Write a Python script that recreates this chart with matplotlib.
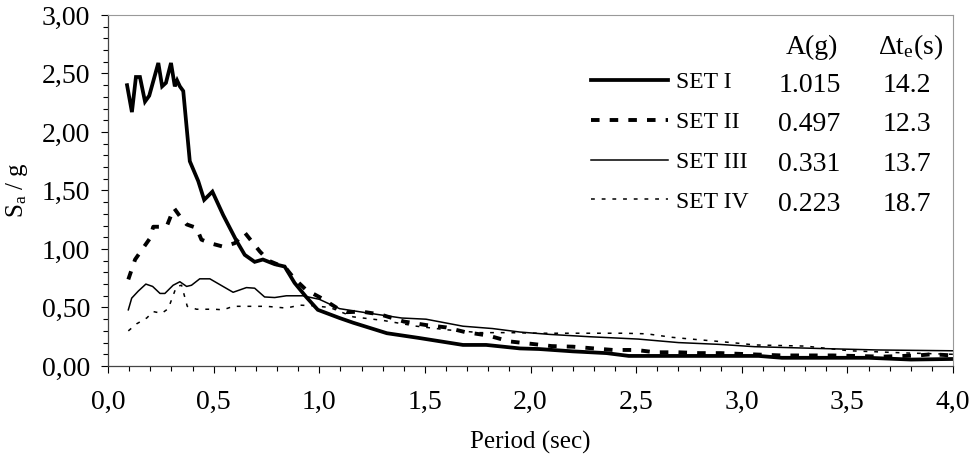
import numpy as np
import matplotlib
matplotlib.use('Agg')
import matplotlib.pyplot as plt
from matplotlib.ticker import MultipleLocator, FuncFormatter

plt.rcParams['font.family'] = ['Liberation Serif', 'DejaVu Serif']
plt.rcParams['mathtext.fontset'] = 'custom'
plt.rcParams['mathtext.rm'] = 'Liberation Serif'
plt.rcParams['mathtext.it'] = 'Liberation Serif:italic'

# values
set1_T = [0.09, 0.113, 0.132, 0.151, 0.175, 0.195, 0.238, 0.256, 0.274, 0.298, 0.316, 0.327,
          0.34, 0.356, 0.387, 0.427, 0.455, 0.494, 0.545, 0.608, 0.647, 0.694, 0.733, 0.789,
          0.836, 0.883, 0.938, 0.993, 1.096, 1.16, 1.32, 1.47, 1.68, 1.79, 1.95, 2.04, 2.20,
          2.36, 2.465, 2.67, 2.89, 3.08, 3.19, 3.6, 3.8, 4.0]
set1_Sa = [2.40, 2.17, 2.47, 2.47, 2.26, 2.31, 2.59, 2.39, 2.42, 2.59, 2.39, 2.44,
           2.39, 2.35, 1.75, 1.58, 1.42, 1.49, 1.29, 1.07, 0.95, 0.89, 0.91, 0.87,
           0.85, 0.71, 0.59, 0.48, 0.41, 0.37, 0.28, 0.24, 0.18, 0.18, 0.15, 0.145, 0.125,
           0.11, 0.086, 0.086, 0.086, 0.086, 0.07, 0.07, 0.055, 0.06]

set2_T = [0.096, 0.128, 0.159, 0.198, 0.214, 0.277, 0.312, 0.34, 0.372, 0.419, 0.442, 0.482,
          0.545, 0.60, 0.647, 0.718, 0.76, 0.80, 0.84, 0.88, 0.938, 1.01, 1.08, 1.13, 1.2,
          1.29, 1.40, 1.505, 1.60, 1.69, 1.80, 1.90, 2.0, 2.10, 2.2, 2.30, 2.39, 2.50, 2.59,
          2.70, 2.80, 2.90, 3.04, 3.19, 3.43, 3.67, 3.83, 3.9, 4.0]
set2_Sa = [0.74, 0.91, 0.99, 1.09, 1.19, 1.19, 1.35, 1.28, 1.21, 1.18, 1.08, 1.05,
           1.02, 1.05, 1.14, 0.98, 0.90, 0.87, 0.84, 0.75, 0.65, 0.58, 0.50, 0.46, 0.465,
           0.44, 0.38, 0.35, 0.33, 0.29, 0.26, 0.21, 0.19, 0.17, 0.165, 0.15, 0.137, 0.137, 0.117,
           0.117, 0.11, 0.11, 0.10, 0.09, 0.09, 0.08, 0.09, 0.10, 0.09]

set3_T = [0.096, 0.112, 0.143, 0.179, 0.211, 0.246, 0.269, 0.308, 0.34, 0.372, 0.395, 0.434,
          0.482, 0.592, 0.655, 0.694, 0.741, 0.789, 0.844, 0.922, 1.0, 1.096, 1.24, 1.39,
          1.505, 1.68, 1.82, 1.95, 2.09, 2.28, 2.51, 2.70, 2.89, 3.06, 3.36, 3.64, 4.0]
set3_Sa = [0.48, 0.58, 0.64, 0.70, 0.68, 0.62, 0.62, 0.69, 0.72, 0.68, 0.69, 0.745,
           0.745, 0.63, 0.67, 0.665, 0.59, 0.585, 0.60, 0.60, 0.57, 0.49, 0.45, 0.41,
           0.40, 0.34, 0.32, 0.29, 0.27, 0.25, 0.23, 0.20, 0.185, 0.165, 0.15, 0.137, 0.13]

set4_T = [0.096, 0.135, 0.183, 0.214, 0.254, 0.285, 0.324, 0.348, 0.375, 0.419, 0.505, 0.545,
          0.592, 0.75, 0.844, 0.907, 0.97, 1.05, 1.16, 1.30, 1.46, 1.60, 1.76, 1.90, 2.04,
          2.16, 2.44, 2.55, 2.67, 2.76, 2.89, 2.98, 3.06, 3.3, 3.51, 3.80, 4.0]
set4_Sa = [0.30, 0.36, 0.41, 0.465, 0.45, 0.49, 0.68, 0.69, 0.51, 0.485, 0.485, 0.48,
           0.51, 0.51, 0.495, 0.52, 0.515, 0.50, 0.42, 0.39, 0.34, 0.31, 0.285, 0.285, 0.28,
           0.28, 0.28, 0.275, 0.245, 0.23, 0.21, 0.195, 0.18, 0.17, 0.13, 0.11, 0.10]

set_names = ['SET I', 'SET II', 'SET III', 'SET IV']
pga = ['1.015', '0.497', '0.331', '0.223']
duration = ['14.2', '12.3', '13.7', '18.7']

fig = plt.figure(figsize=(9.76, 4.67), dpi=100)
ax = fig.add_axes([0.1107, 0.2163, 0.8658, 0.7516])

l1, = ax.plot(set1_T, set1_Sa, color='black', lw=2.7, solid_joinstyle='miter')
l2, = ax.plot(set2_T, set2_Sa, color='black', lw=2.8, dashes=(2.2, 2.6))
l3, = ax.plot(set3_T, set3_Sa, color='black', lw=1.1)
l4, = ax.plot(set4_T, set4_Sa, color='black', lw=1.1, dashes=(2.5, 4.5))

ax.set_xlim(0, 4.0)
ax.set_ylim(0, 3.0)
ax.xaxis.set_major_locator(MultipleLocator(0.5))
ax.xaxis.set_minor_locator(MultipleLocator(0.1))
ax.yaxis.set_major_locator(MultipleLocator(0.5))
ax.yaxis.set_minor_locator(MultipleLocator(0.1))
ax.xaxis.set_major_formatter(FuncFormatter(lambda v, p: f'{v:.1f}'.replace('.', ',')))
ax.yaxis.set_major_formatter(FuncFormatter(lambda v, p: f'{v:.2f}'.replace('.', ',')))
ax.tick_params(which='major', direction='out', length=5, width=0.8, labelsize=20, pad=8)
ax.tick_params(which='minor', direction='out', length=3.5, width=0.8)
ax.tick_params(axis='x', pad=12)

for s in ['left', 'bottom']:
    ax.spines[s].set_color('#444444')
    ax.spines[s].set_linewidth(0.9)
for s in ['top', 'right']:
    ax.spines[s].set_color('#999999')
    ax.spines[s].set_linewidth(0.8)

ax.set_xlabel('Period (sec)', fontsize=18)
ax.set_ylabel(r'S$_{\mathrm{a}}$ / g', fontsize=18)
ax.xaxis.set_label_coords(0.5, -0.185)
ax.yaxis.set_label_coords(-0.092, 0.5)

leg = ax.legend([l1, l2, l3, l4], set_names, loc='upper left', bbox_to_anchor=(0.571, 0.838),
                frameon=False, fontsize=17, handlelength=3.3, handletextpad=0.3,
                labelspacing=0.77, borderpad=0, borderaxespad=0)

ax.text(0.833, 0.909, 'A(g)', transform=ax.transAxes, ha='center', va='center', fontsize=20)
ax.text(0.950, 0.909, r'Δt$_{\mathrm{e}}$(s)', transform=ax.transAxes, ha='center', va='center', fontsize=20)
row_y = [0.799, 0.689, 0.573, 0.459]
for y, a, d in zip(row_y, pga, duration):
    ax.text(0.830, y, a, transform=ax.transAxes, ha='center', va='center', fontsize=20)
    ax.text(0.945, y, d, transform=ax.transAxes, ha='center', va='center', fontsize=20)

fig.savefig('out.png', dpi=100)
